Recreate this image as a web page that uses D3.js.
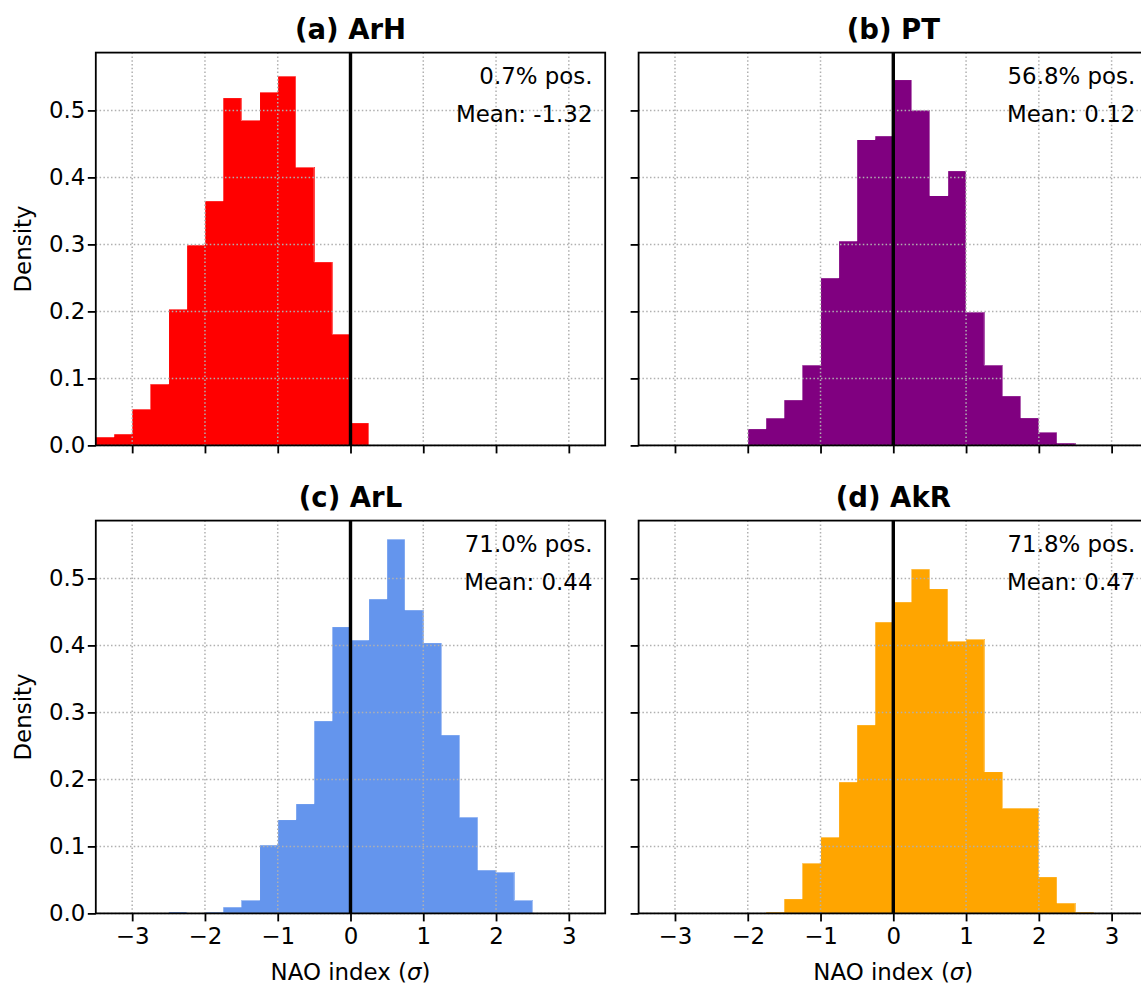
<!DOCTYPE html>
<html>
<head>
<meta charset="utf-8">
<script src="https://cdn.jsdelivr.net/npm/d3@7/dist/d3.min.js"></script>
<style>
  html, body { margin: 0; padding: 0; background: #fff; }
  svg { display: block; font-family: "DejaVu Sans", sans-serif; }
</style>
</head>
<body>
<svg id="chart" width="1141" height="985"></svg>
<script>
// Histogram bin edges (NAO index, in standard deviations)
const binEdges = [-3.5, -3.25, -3.0, -2.75, -2.5, -2.25, -2.0, -1.75, -1.5, -1.25,
                  -1.0, -0.75, -0.5, -0.25, 0.0, 0.25, 0.5, 0.75, 1.0, 1.25,
                  1.5, 1.75, 2.0, 2.25, 2.5, 2.75, 3.0, 3.25, 3.5];

// Density per bin for each regime
const densityArH = [0.0125, 0.017, 0.054, 0.0915, 0.203, 0.299, 0.365, 0.519, 0.485, 0.527,
                    0.551, 0.415, 0.274, 0.166, 0.0338, 0, 0, 0, 0, 0,
                    0, 0, 0, 0, 0, 0, 0, 0];
const densityPT  = [0, 0, 0, 0, 0, 0, 0.0249, 0.0408, 0.068, 0.1198,
                    0.25, 0.305, 0.4566, 0.462, 0.546, 0.500, 0.373, 0.410, 0.1988, 0.1198,
                    0.074, 0.0413, 0.0194, 0.0036, 0, 0, 0, 0];
const densityArL = [0, 0, 0, 0, 0.0024, 0, 0.002, 0.0094, 0.0194, 0.102,
                    0.140, 0.1638, 0.2875, 0.428, 0.408, 0.4694, 0.5584, 0.453, 0.404, 0.2665,
                    0.1435, 0.0647, 0.0613, 0.0194, 0, 0, 0, 0];
const densityAkR = [0, 0, 0, 0, 0, 0, 0, 0.002, 0.0219, 0.0747,
                    0.1136, 0.1963, 0.2815, 0.435, 0.465, 0.514, 0.4848, 0.406, 0.409, 0.2117,
                    0.157, 0.157, 0.0547, 0.0154, 0.002, 0, 0, 0];

const panelTitles = ["(a) ArH", "(b) PT", "(c) ArL", "(d) AkR"];
const posLabels   = ["0.7% pos.", "56.8% pos.", "71.0% pos.", "71.8% pos."];
const meanLabels  = ["Mean: -1.32", "Mean: 0.12", "Mean: 0.44", "Mean: 0.47"];
const barColors   = ["#ff0000", "#800080", "#6495ed", "#ffa500"];
const xTicks = [-3, -2, -1, 0, 1, 2, 3];
const yTicks = [0.0, 0.1, 0.2, 0.3, 0.4, 0.5];
const xLabel = "NAO index (";
const yLabel = "Density";

const densities = [densityArH, densityPT, densityArL, densityAkR];

// Layout
const W = 509.4, H = 392.8;
const lefts = [95.8, 638.6];
const tops = [52.6, 520.6];
const FONT = 22.9, TITLE_FONT = 27.5;

const svg = d3.select("#chart");

// Shared axes limits
const x = d3.scaleLinear().domain([-3.5, 3.5]).range([0, W]);
const yMax = d3.max(densities, d => d3.max(d)) * 1.05;
const y = d3.scaleLinear().domain([0, yMax]).range([H, 0]);

const fmtX = d => (d < 0 ? "\u2212" + Math.abs(d) : String(d));
const fmtY = d3.format(".1f");

densities.forEach((dens, i) => {
  const row = Math.floor(i / 2), col = i % 2;
  const g = svg.append("g").attr("transform", `translate(${lefts[col]},${tops[row]})`);

  const bins = dens.map((v, k) => ({ x0: binEdges[k], x1: binEdges[k + 1], v }))
                   .filter(b => b.v > 0);

  // bars
  g.append("g").attr("shape-rendering", "crispEdges")
    .selectAll("rect").data(bins).join("rect")
    .attr("x", b => x(b.x0))
    .attr("width", b => x(b.x1) - x(b.x0) + 0.4)
    .attr("y", b => y(b.v))
    .attr("height", b => y(0) - y(b.v))
    .attr("fill", barColors[i]);

  // faint light outline along the bar tops
  const outline = d3.line().curve(d3.curveStepAfter).x(d => x(d[0])).y(d => y(d[1]));
  const pts = [];
  dens.forEach((v, k) => { pts.push([binEdges[k], v]); });
  pts.push([binEdges[binEdges.length - 1], 0]);
  g.append("path").attr("d", outline(pts)).attr("fill", "none")
    .attr("stroke", "#ffffff").attr("stroke-opacity", 0.45).attr("stroke-width", 1);

  // dotted grid on top of bars
  const grid = g.append("g").attr("stroke", "#b0b0b0").attr("stroke-width", 1.5)
    .attr("stroke-dasharray", "1.5,2.3");
  grid.selectAll(".vx").data(xTicks).join("line")
    .attr("x1", d => x(d)).attr("x2", d => x(d)).attr("y1", 0).attr("y2", H);
  grid.selectAll(".hy").data(yTicks).join("line")
    .attr("y1", d => y(d)).attr("y2", d => y(d)).attr("x1", 0).attr("x2", W);

  // zero line
  g.append("line").attr("x1", x(0)).attr("x2", x(0)).attr("y1", 0).attr("y2", H)
    .attr("stroke", "#000").attr("stroke-width", 3.4);

  // axes
  const xAxis = d3.axisBottom(x).tickValues(xTicks).tickSize(8).tickPadding(6)
    .tickFormat(row === 1 ? fmtX : () => "");
  const yAxis = d3.axisLeft(y).tickValues(yTicks).tickSize(8).tickPadding(2.5)
    .tickFormat(col === 0 ? fmtY : () => "");

  const gx = g.append("g").attr("transform", `translate(0,${H})`).call(xAxis);
  const gy = g.append("g").call(yAxis);
  [gx, gy].forEach(a => {
    a.select(".domain").remove();
    a.selectAll(".tick line").attr("stroke", "#000").attr("stroke-width", 1.8);
    a.selectAll(".tick text").attr("fill", "#000").style("font-size", FONT + "px")
      .style("font-family", "DejaVu Sans");
  });

  // frame
  g.append("rect").attr("x", 0).attr("y", 0).attr("width", W).attr("height", H)
    .attr("fill", "none").attr("stroke", "#000").attr("stroke-width", 1.8);

  // title
  g.append("text").attr("x", W / 2).attr("y", -13.5).attr("text-anchor", "middle")
    .style("font-size", TITLE_FONT + "px").style("font-weight", "bold")
    .text(panelTitles[i]);

  // annotations
  g.append("text").attr("x", W - 12.7).attr("y", 31).attr("text-anchor", "end")
    .style("font-size", FONT + "px").text(posLabels[i]);
  g.append("text").attr("x", W - 12.7).attr("y", 69.5).attr("text-anchor", "end")
    .style("font-size", FONT + "px").text(meanLabels[i]);

  // axis labels
  if (row === 1) {
    const t = g.append("text").attr("x", W / 2).attr("y", H + 66.5).attr("text-anchor", "middle")
      .style("font-size", FONT + "px");
    t.append("tspan").text(xLabel);
    t.append("tspan").style("font-style", "italic").text("\u03c3");
    t.append("tspan").text(")");
  }
  if (col === 0) {
    g.append("text")
      .attr("transform", `translate(${31 - lefts[0]},${H / 2}) rotate(-90)`)
      .attr("text-anchor", "middle")
      .style("font-size", FONT + "px").text(yLabel);
  }
});
</script>
</body>
</html>
